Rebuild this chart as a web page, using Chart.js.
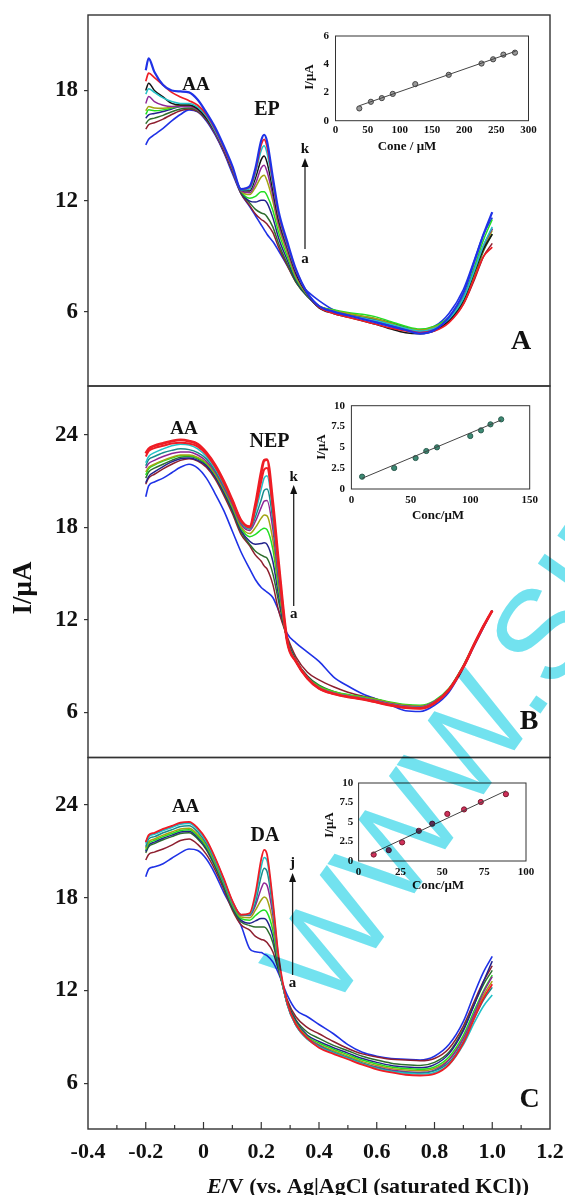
<!DOCTYPE html>
<html>
<head>
<meta charset="utf-8">
<title>DPV of AA with EP, NEP and DA</title>
<script src="https://cdn.jsdelivr.net/npm/chart.js@4.4.1/dist/chart.umd.min.js"></script>
<style>
  html, body { margin: 0; padding: 0; background: #fff; }
  #page { position: relative; width: 565px; height: 1195px; overflow: hidden; }
  #page canvas { position: absolute; left: 0; top: 0; }
  #mark { mix-blend-mode: multiply; pointer-events: none; }
</style>
</head>
<body>
<div id="page">
  <canvas id="panelA" width="565" height="1195"></canvas>
  <canvas id="panelB" width="565" height="1195"></canvas>
  <canvas id="panelC" width="565" height="1195"></canvas>
  <canvas id="insetA" width="565" height="1195"></canvas>
  <canvas id="insetB" width="565" height="1195"></canvas>
  <canvas id="insetC" width="565" height="1195"></canvas>
  <canvas id="mark" width="565" height="1195"></canvas>
</div>
<script>
const SERIF = '"Liberation Serif", "Times New Roman", serif';

// potential grid of the scans (V vs. Ag|AgCl)
const potential = [-0.2, -0.19, -0.17, -0.14, -0.11, -0.08, -0.05, -0.02, 0.01, 0.04, 0.07, 0.1, 0.13,
  0.16, 0.18, 0.2, 0.21, 0.22, 0.24, 0.26, 0.29, 0.32, 0.36,
  0.4, 0.45, 0.5, 0.55, 0.6, 0.65, 0.7, 0.75, 0.8, 0.85, 0.9, 0.94, 0.97, 1.0];

const curveLetters = ['a', 'b', 'c', 'd', 'e', 'f', 'g', 'h', 'i', 'j', 'k'];

// A: AA + increasing EP, curves a..k (uA)
const currentA = [
  [15.05, 15.35, 15.6, 15.95, 16.35, 16.7, 16.95, 16.85, 16.35, 15.6, 14.65, 13.5, 12.4, 11.7, 11.2, 10.7, 10.45, 10.2, 9.8, 9.3, 8.5, 7.7, 7.1, 6.6, 6.1, 5.85, 5.7, 5.5, 5.3, 5.1, 5.0, 5.2, 5.9, 7.2, 8.9, 10.2, 11.1],
  [15.9, 16.14, 16.25, 16.45, 16.7, 16.9, 17.0, 16.85, 16.4, 15.65, 14.7, 13.6, 12.4, 11.75, 11.3, 11.0, 10.9, 10.75, 10.3, 9.5, 8.5, 7.6, 6.85, 6.3, 6.05, 5.85, 5.7, 5.55, 5.3, 5.1, 4.95, 5.05, 5.45, 6.4, 7.8, 9.0, 9.7],
  [16.2, 16.4, 16.5, 16.65, 16.85, 17.0, 17.05, 16.9, 16.45, 15.7, 14.75, 13.65, 12.45, 11.9, 11.55, 11.35, 11.3, 11.15, 10.6, 9.7, 8.6, 7.6, 6.8, 6.3, 6.05, 5.9, 5.75, 5.6, 5.4, 5.15, 5.0, 5.1, 5.55, 6.5, 8.0, 9.3, 10.2],
  [16.5, 16.68, 16.75, 16.86, 17.0, 17.13, 17.15, 16.95, 16.5, 15.75, 14.8, 13.7, 12.5, 12.0, 11.95, 12.05, 12.05, 11.9, 11.1, 10.0, 8.8, 7.7, 6.85, 6.25, 5.95, 5.8, 5.65, 5.5, 5.25, 5.0, 4.9, 5.0, 5.5, 6.6, 8.2, 9.5, 10.5],
  [16.7, 16.95, 16.9, 16.95, 17.05, 17.15, 17.2, 17.05, 16.6, 15.85, 14.9, 13.75, 12.55, 12.15, 12.25, 12.5, 12.5, 12.3, 11.5, 10.3, 9.0, 7.8, 6.9, 6.3, 6.1, 5.95, 5.85, 5.7, 5.45, 5.2, 5.05, 5.2, 5.7, 6.8, 8.5, 9.9, 11.0],
  [16.9, 17.13, 17.05, 17.04, 17.1, 17.2, 17.15, 16.95, 16.5, 15.75, 14.8, 13.7, 12.55, 12.35, 12.75, 13.3, 13.4, 13.1, 12.0, 10.6, 9.2, 7.9, 6.9, 6.3, 6.05, 5.9, 5.75, 5.6, 5.35, 5.1, 5.0, 5.15, 5.6, 6.6, 8.1, 9.4, 10.4],
  [17.3, 17.67, 17.4, 17.2, 17.13, 17.13, 17.13, 16.95, 16.5, 15.7, 14.75, 13.65, 12.55, 12.45, 12.95, 13.8, 13.95, 13.6, 12.3, 10.8, 9.35, 8.0, 6.95, 6.25, 5.95, 5.8, 5.65, 5.45, 5.2, 5.0, 4.9, 5.05, 5.6, 6.7, 8.3, 9.6, 10.5],
  [18.0, 18.4, 18.0, 17.65, 17.3, 17.22, 17.22, 17.0, 16.5, 15.75, 14.8, 13.7, 12.6, 12.55, 13.25, 14.25, 14.45, 14.1, 12.6, 11.0, 9.5, 8.1, 6.95, 6.2, 5.9, 5.7, 5.5, 5.3, 5.05, 4.85, 4.8, 4.95, 5.5, 6.6, 8.2, 9.4, 10.2],
  [17.8, 18.1, 17.9, 17.6, 17.4, 17.3, 17.3, 17.1, 16.6, 15.8, 14.85, 13.75, 12.6, 12.65, 13.5, 14.75, 15.0, 14.6, 12.9, 11.2, 9.6, 8.2, 7.0, 6.3, 6.0, 5.8, 5.65, 5.5, 5.3, 5.1, 4.95, 5.1, 5.6, 6.7, 8.3, 9.6, 10.6],
  [18.5, 18.94, 18.7, 18.3, 17.9, 17.65, 17.45, 17.2, 16.7, 15.9, 14.9, 13.8, 12.65, 12.75, 13.65, 15.05, 15.35, 14.95, 13.1, 11.3, 9.7, 8.25, 7.0, 6.25, 5.9, 5.7, 5.5, 5.3, 5.1, 4.95, 4.85, 4.95, 5.4, 6.4, 7.9, 9.0, 9.5],
  [19.1, 19.75, 19.0, 18.3, 18.0, 17.95, 17.9, 17.5, 16.8, 16.0, 15.0, 13.9, 12.65, 12.8, 13.8, 15.3, 15.6, 15.25, 13.3, 11.45, 9.8, 8.3, 7.0, 6.3, 6.0, 5.8, 5.6, 5.4, 5.2, 5.0, 4.8, 5.0, 5.7, 7.0, 8.8, 10.2, 11.4]
];

// B: AA + increasing NEP, curves a..k (uA)
const currentB = [
  [19.99, 20.7, 20.95, 21.2, 21.55, 21.9, 22.1, 21.85, 21.2, 20.2, 19.1, 17.75, 16.4, 15.3, 14.6, 14.1, 13.95, 13.8, 13.45, 12.6, 11.1, 10.5, 9.9, 9.3, 8.3, 7.7, 7.2, 6.85, 6.45, 6.1, 6.05, 6.45, 7.3, 8.9, 10.4, 11.5, 12.6],
  [20.8, 21.2, 21.45, 21.8, 22.1, 22.35, 22.45, 22.3, 21.9, 21.15, 20.1, 18.9, 17.55, 16.8, 16.2, 15.8, 15.5, 15.3, 14.3, 12.6, 10.9, 9.6, 8.6, 8.1, 7.65, 7.3, 7.05, 6.85, 6.6, 6.45, 6.35, 6.65, 7.45, 8.95, 10.45, 11.55, 12.6],
  [21.2, 21.6, 21.85, 22.1, 22.35, 22.55, 22.6, 22.45, 22.05, 21.3, 20.25, 19.05, 17.7, 16.9, 16.45, 16.2, 16.1, 16.0, 15.0, 13.2, 10.75, 9.4, 8.35, 7.75, 7.35, 7.1, 6.95, 6.8, 6.6, 6.45, 6.4, 6.7, 7.5, 9.0, 10.5, 11.6, 12.6],
  [20.9, 21.3, 21.6, 21.95, 22.25, 22.45, 22.5, 22.35, 22.0, 21.3, 20.3, 19.15, 17.8, 17.1, 16.9, 16.95, 17.0, 16.9, 15.8, 13.6, 10.7, 9.35, 8.3, 7.65, 7.3, 7.05, 6.9, 6.75, 6.55, 6.4, 6.35, 6.7, 7.5, 9.0, 10.5, 11.6, 12.6],
  [21.4, 21.8, 22.05, 22.3, 22.5, 22.65, 22.65, 22.5, 22.15, 21.45, 20.45, 19.3, 17.95, 17.4, 17.55, 17.85, 17.95, 17.85, 16.6, 14.0, 10.65, 9.3, 8.25, 7.7, 7.35, 7.15, 7.0, 6.85, 6.65, 6.5, 6.45, 6.75, 7.55, 9.05, 10.55, 11.6, 12.6],
  [21.6, 21.9, 22.1, 22.35, 22.55, 22.7, 22.7, 22.55, 22.2, 21.5, 20.5, 19.4, 18.05, 17.6, 18.0, 18.6, 18.8, 18.75, 17.2, 14.3, 10.6, 9.3, 8.2, 7.65, 7.3, 7.1, 6.95, 6.8, 6.6, 6.45, 6.4, 6.7, 7.5, 9.0, 10.5, 11.6, 12.6],
  [21.85, 22.15, 22.35, 22.6, 22.8, 22.9, 22.9, 22.7, 22.3, 21.6, 20.6, 19.5, 18.2, 17.8, 18.4, 19.3, 19.7, 19.75, 17.9, 14.6, 10.6, 9.3, 8.2, 7.6, 7.25, 7.05, 6.9, 6.75, 6.55, 6.4, 6.35, 6.7, 7.5, 9.0, 10.5, 11.6, 12.6],
  [22.0, 22.4, 22.6, 22.85, 23.0, 23.1, 23.05, 22.85, 22.45, 21.7, 20.7, 19.6, 18.3, 17.9, 18.7, 19.8, 20.4, 20.5, 18.5, 14.9, 10.6, 9.3, 8.2, 7.6, 7.25, 7.05, 6.9, 6.7, 6.5, 6.35, 6.3, 6.65, 7.45, 8.95, 10.5, 11.6, 12.6],
  [22.2, 22.6, 22.85, 23.1, 23.3, 23.4, 23.35, 23.1, 22.6, 21.85, 20.8, 19.7, 18.4, 17.95, 19.0, 20.5, 21.2, 21.35, 19.0, 15.2, 10.6, 9.3, 8.2, 7.6, 7.25, 7.05, 6.9, 6.7, 6.5, 6.35, 6.3, 6.65, 7.45, 8.95, 10.5, 11.6, 12.6],
  [22.6, 22.95, 23.15, 23.3, 23.45, 23.5, 23.45, 23.25, 22.75, 21.95, 20.9, 19.7, 18.45, 18.0, 19.3, 21.0, 21.75, 21.85, 19.3, 15.5, 10.6, 9.3, 8.2, 7.55, 7.2, 7.0, 6.85, 6.65, 6.45, 6.3, 6.25, 6.6, 7.45, 8.95, 10.5, 11.6, 12.6],
  [22.8, 23.1, 23.3, 23.46, 23.6, 23.68, 23.6, 23.4, 22.85, 22.05, 21.0, 19.75, 18.45, 18.05, 19.5, 21.6, 22.35, 22.4, 19.6, 15.7, 10.6, 9.3, 8.2, 7.55, 7.2, 7.0, 6.85, 6.65, 6.45, 6.3, 6.25, 6.6, 7.45, 8.95, 10.5, 11.6, 12.6]
];

// C: AA + increasing DA, curves a..j (uA)
const currentC = [
  [19.36, 19.85, 20.0, 20.2, 20.55, 20.9, 21.15, 21.05, 20.5, 19.55, 18.35, 17.3, 16.2, 14.7, 14.5, 14.45, 14.35, 14.25, 13.85, 13.1, 11.7, 10.75, 10.3, 9.8, 9.2, 8.5, 8.0, 7.75, 7.6, 7.55, 7.5, 7.75, 8.5, 10.0, 11.9, 13.2, 14.2],
  [20.44, 20.8, 20.95, 21.15, 21.4, 21.7, 21.8, 21.45, 20.8, 19.8, 18.55, 17.2, 16.25, 15.9, 15.5, 15.3, 15.25, 15.1, 14.5, 13.3, 11.4, 10.3, 9.6, 9.2, 8.7, 8.25, 7.9, 7.7, 7.55, 7.5, 7.45, 7.6, 8.25, 9.7, 11.4, 12.6, 13.6],
  [20.9, 21.3, 21.5, 21.75, 21.95, 22.15, 22.2, 21.8, 21.1, 20.0, 18.7, 17.3, 16.45, 16.2, 16.1, 16.1, 16.1, 15.95, 15.1, 13.4, 11.3, 10.1, 9.3, 8.9, 8.45, 8.1, 7.75, 7.5, 7.3, 7.2, 7.15, 7.35, 8.0, 9.5, 11.2, 12.4, 13.3],
  [21.0, 21.4, 21.6, 21.85, 22.05, 22.25, 22.3, 21.9, 21.2, 20.1, 18.8, 17.4, 16.55, 16.35, 16.5, 16.65, 16.65, 16.5, 15.5, 13.5, 11.2, 10.0, 9.1, 8.7, 8.3, 7.95, 7.6, 7.35, 7.15, 7.05, 7.0, 7.2, 7.9, 9.4, 11.2, 12.6, 13.9],
  [21.1, 21.5, 21.7, 21.95, 22.15, 22.35, 22.4, 22.0, 21.3, 20.2, 18.9, 17.5, 16.65, 16.55, 16.85, 17.15, 17.2, 17.05, 15.9, 13.6, 11.15, 9.9, 9.0, 8.6, 8.2, 7.85, 7.5, 7.25, 7.05, 6.95, 6.9, 7.05, 7.7, 9.1, 10.8, 12.0, 13.0],
  [21.2, 21.6, 21.8, 22.05, 22.25, 22.45, 22.5, 22.1, 21.4, 20.3, 19.0, 17.6, 16.75, 16.7, 17.2, 17.85, 18.05, 17.9, 16.4, 13.75, 11.1, 9.85, 8.95, 8.5, 8.1, 7.75, 7.4, 7.15, 6.95, 6.85, 6.8, 6.95, 7.55, 8.9, 10.5, 11.7, 12.6],
  [21.6, 22.0, 22.15, 22.4, 22.6, 22.8, 22.85, 22.45, 21.7, 20.55, 19.2, 17.75, 16.9, 16.85, 17.5, 18.6, 18.95, 18.8, 16.9, 13.9, 11.1, 9.8, 8.9, 8.45, 8.0, 7.65, 7.3, 7.05, 6.85, 6.75, 6.7, 6.85, 7.5, 8.9, 10.6, 11.9, 12.9],
  [21.3, 21.8, 21.95, 22.2, 22.4, 22.6, 22.65, 22.25, 21.5, 20.4, 19.05, 17.65, 16.85, 16.9, 17.7, 19.4, 19.9, 19.7, 17.3, 14.0, 11.1, 9.75, 8.85, 8.4, 8.0, 7.65, 7.3, 7.0, 6.8, 6.7, 6.65, 6.8, 7.35, 8.7, 10.3, 11.4, 12.2],
  [21.5, 21.95, 22.1, 22.35, 22.55, 22.75, 22.8, 22.4, 21.65, 20.5, 19.15, 17.75, 16.9, 16.95, 18.0, 20.0, 20.6, 20.4, 17.6, 14.1, 11.1, 9.75, 8.85, 8.35, 7.95, 7.6, 7.25, 6.95, 6.75, 6.65, 6.6, 6.7, 7.2, 8.5, 10.0, 11.0, 11.7],
  [21.6, 22.05, 22.2, 22.45, 22.65, 22.85, 22.9, 22.5, 21.75, 20.6, 19.25, 17.8, 16.9, 17.0, 18.3, 20.5, 21.1, 20.8, 17.8, 14.2, 11.2, 9.8, 8.9, 8.3, 7.9, 7.55, 7.2, 6.9, 6.7, 6.55, 6.5, 6.6, 7.2, 8.6, 10.3, 11.5, 12.4]
];

const xTickValues = [-0.4, -0.3, -0.2, -0.1, 0, 0.1, 0.2, 0.3, 0.4, 0.5, 0.6, 0.7, 0.8, 0.9, 1.0, 1.1, 1.2];
const yTicksA = [6, 12, 18];
const yTicksB = [6, 12, 18, 24];
const yTicksC = [6, 12, 18, 24];

// calibration insets: peak current vs concentration
const concA = [37, 55, 72, 89, 124, 176, 227, 245, 261, 279];
const peakA = [0.87, 1.34, 1.6, 1.9, 2.59, 3.25, 4.05, 4.35, 4.68, 4.82];
const fitConcA = [37, 280];
const fitPeakA = [1.06, 4.92];
const insetXTicksA = [0, 50, 100, 150, 200, 250, 300];
const insetYTicksA = [0, 2, 4, 6];

const concB = [9, 36, 54, 63, 72, 100, 109, 117, 126];
const peakB = [1.48, 2.52, 3.72, 4.56, 5.0, 6.36, 7.04, 7.76, 8.36];
const fitConcB = [9, 126];
const fitPeakB = [1.28, 8.28];
const insetXTicksB = [0, 50, 100, 150];
const insetYTicksB = [0, 2.5, 5, 7.5, 10];

const concC = [9, 18, 26, 36, 44, 53, 63, 73, 88];
const peakC = [0.83, 1.39, 2.39, 3.87, 4.78, 6.04, 6.61, 7.57, 8.57];
const fitConcC = [8, 88];
const fitPeakC = [0.96, 9.0];
const insetXTicksC = [0, 25, 50, 75, 100];
const insetYTicksC = [0, 2.5, 5, 7.5, 10];

const col = {
  blue: '#1f32e6', brown: '#8e1f2f', dkgreen: '#2d6e2d', navy: '#22228c', green: '#22de22',
  olive: '#a3a312', purple: '#8f2596', black: '#141414', cyan: '#22c2c8', teal: '#178c8c', red: '#ee1d25'
};
const coloursA = [col.blue, col.brown, col.dkgreen, col.navy, col.green, col.olive, col.purple, col.black, col.cyan, col.red, col.blue];
const coloursB = [col.blue, col.brown, col.dkgreen, col.navy, col.green, col.olive, col.purple, col.teal, col.cyan, col.red, col.red];
const coloursC = [col.blue, col.brown, col.dkgreen, col.navy, col.green, col.olive, col.purple, col.teal, col.cyan, col.red];
const widthsA = [1.6, 1.5, 1.5, 1.5, 1.5, 1.5, 1.5, 1.5, 1.5, 1.7, 2.2];
const widthsB = [1.6, 1.5, 1.5, 1.5, 1.5, 1.5, 1.5, 1.5, 1.5, 2.0, 2.8];
const widthsC = [1.6, 1.5, 1.5, 1.5, 1.5, 1.5, 1.5, 1.5, 1.6, 1.8];

const H = 1195;
const PLOT_LEFT = 88;

function frame(lw) {
  return {
    id: 'frame',
    afterDraw(chart) {
      const a = chart.chartArea, ctx = chart.ctx;
      ctx.save();
      ctx.strokeStyle = '#333';
      ctx.lineWidth = lw;
      ctx.strokeRect(a.left, a.top, a.right - a.left, a.bottom - a.top);
      ctx.restore();
    }
  };
}

// text labels, concentration arrow and free-standing axis titles
function notes(items, arrow, extra) {
  return {
    id: 'notes',
    afterDraw(chart) {
      const ctx = chart.ctx;
      ctx.save();
      ctx.fillStyle = '#111';
      ctx.textAlign = 'center';
      ctx.textBaseline = 'middle';
      items.forEach(it => {
        ctx.font = 'bold ' + it.size + 'px ' + SERIF;
        ctx.fillText(it.text, it.x, it.y);
      });
      if (arrow) {
        ctx.strokeStyle = '#222';
        ctx.lineWidth = 1.3;
        ctx.beginPath();
        ctx.moveTo(arrow.x, arrow.y1);
        ctx.lineTo(arrow.x, arrow.y2 + 6);
        ctx.stroke();
        ctx.beginPath();
        ctx.moveTo(arrow.x, arrow.y2);
        ctx.lineTo(arrow.x - 3.5, arrow.y2 + 9);
        ctx.lineTo(arrow.x + 3.5, arrow.y2 + 9);
        ctx.closePath();
        ctx.fill();
      }
      if (extra) extra(ctx, chart);
      ctx.restore();
    }
  };
}

function rotatedText(ctx, text, x, y, size) {
  ctx.save();
  ctx.translate(x, y);
  ctx.rotate(-Math.PI / 2);
  ctx.font = 'bold ' + size + 'px ' + SERIF;
  ctx.textAlign = 'center';
  ctx.textBaseline = 'middle';
  ctx.fillText(text, 0, 0);
  ctx.restore();
}

function panel(id, rows, colours, widths, top, bottom, yMin, yMax, yTicks, withXAxis, plugins) {
  const datasets = rows.map((row, i) => ({
    label: curveLetters[i],
    data: row.map((v, j) => ({ x: potential[j], y: v })),
    borderColor: colours[i],
    borderWidth: widths[i],
    pointRadius: 0,
    fill: false,
    cubicInterpolationMode: 'monotone',
    order: rows.length - i
  }));
  const xAxis = {
    type: 'linear', min: -0.4, max: 1.2, display: withXAxis,
    afterBuildTicks: s => { s.ticks = xTickValues.map(v => ({ value: v })); },
    grid: { display: false, drawTicks: false },
    border: { display: false },
    ticks: {
      autoSkip: false, maxRotation: 0, padding: 10, color: '#111',
      font: { family: SERIF, size: 22, weight: 'bold' },
      callback: v => {
        const r = Math.round(v * 10);
        if (r % 2) return '';
        if (r === 0) return '0';
        return (r / 10).toFixed(1);
      }
    }
  };
  if (withXAxis) {
    xAxis.afterFit = s => { s.height = H - bottom; s.paddingLeft = 0; s.paddingRight = 0; };
  }
  return new Chart(document.getElementById(id), {
    type: 'line',
    data: { datasets },
    options: {
      responsive: false,
      animation: false,
      events: [],
      layout: { padding: { left: 0, right: 15, top: top, bottom: withXAxis ? 0 : H - bottom } },
      plugins: { legend: { display: false }, tooltip: { enabled: false } },
      scales: {
        x: xAxis,
        y: {
          type: 'linear', min: yMin, max: yMax,
          afterBuildTicks: s => { s.ticks = yTicks.map(v => ({ value: v })); },
          afterFit: s => { s.width = PLOT_LEFT; s.paddingTop = 0; s.paddingBottom = 0; },
          grid: { drawOnChartArea: false, drawTicks: true, tickLength: 4, color: '#333', lineWidth: 1.2 },
          border: { display: false },
          ticks: { padding: 6, color: '#111', font: { family: SERIF, size: 23, weight: 'bold' } }
        }
      }
    },
    plugins: [frame(1.4)].concat(plugins)
  });
}

// inward minor/major ticks on the shared potential axis
const innerTicks = {
  id: 'innerTicks',
  afterDraw(chart) {
    const s = chart.scales.x, ctx = chart.ctx, b = chart.chartArea.bottom;
    ctx.save();
    ctx.strokeStyle = '#333';
    ctx.lineWidth = 1.2;
    s.ticks.forEach(t => {
      const r = Math.round(t.value * 10);
      if (r === -4 || r === 12) return;
      const x = s.getPixelForValue(t.value);
      ctx.beginPath();
      ctx.moveTo(x, b);
      ctx.lineTo(x, b - (r % 2 ? 4 : 7));
      ctx.stroke();
    });
    ctx.restore();
  }
};

panel('panelA', currentA, coloursA, widthsA, 15, 386, 1.96, 22.1, yTicksA, false, [
  notes([
    { text: 'AA', x: 196, y: 85, size: 19 },
    { text: 'EP', x: 267, y: 110, size: 20 },
    { text: 'k', x: 305, y: 149, size: 15 },
    { text: 'a', x: 305, y: 259, size: 15 },
    { text: 'A', x: 521, y: 342, size: 28 }
  ], { x: 305, y1: 249, y2: 158 })
]);

panel('panelB', currentB, coloursB, widthsB, 386, 757.5, 3.06, 27.18, yTicksB, false, [
  notes([
    { text: 'AA', x: 184, y: 429, size: 19 },
    { text: 'NEP', x: 269.5, y: 442, size: 20 },
    { text: 'k', x: 293.7, y: 477, size: 15 },
    { text: 'a', x: 293.7, y: 614, size: 15 },
    { text: 'B', x: 529, y: 722, size: 28 }
  ], { x: 293.7, y1: 606, y2: 485 }, ctx => rotatedText(ctx, 'I/\u03bcA', 24, 588, 27))
]);

panel('panelC', currentC, coloursC, widthsC, 757.5, 1129, 3.04, 27.07, yTicksC, true, [
  innerTicks,
  notes([
    { text: 'AA', x: 185.6, y: 807, size: 19 },
    { text: 'DA', x: 265, y: 836, size: 20 },
    { text: 'j', x: 292.6, y: 863, size: 15 },
    { text: 'a', x: 292.6, y: 983, size: 15 },
    { text: 'C', x: 529.7, y: 1100, size: 28 }
  ], { x: 292.6, y1: 975, y2: 873 }, ctx => {
    const italic = 'italic bold 22px ' + SERIF, bold = 'bold 22px ' + SERIF;
    const rest = '/V (vs. Ag|AgCl (saturated KCl))';
    ctx.font = italic; const w1 = ctx.measureText('E').width;
    ctx.font = bold; const w2 = ctx.measureText(rest).width;
    const x0 = 368 - (w1 + w2) / 2;
    ctx.textAlign = 'left';
    ctx.font = italic; ctx.fillText('E', x0, 1187);
    ctx.font = bold; ctx.fillText(rest, x0 + w1, 1187);
  })
]);

function inset(id, area, xMax, xTicks, yMax, yTicks, conc, peak, fitX, fitY, marker, titles) {
  const tickFont = { family: SERIF, size: 11, weight: 'bold' };
  const yBox = 40;
  return new Chart(document.getElementById(id), {
    type: 'scatter',
    data: {
      datasets: [
        { data: fitX.map((x, i) => ({ x, y: fitY[i] })), showLine: true, borderColor: '#444', borderWidth: 1, pointRadius: 0 },
        { data: conc.map((x, i) => ({ x, y: peak[i] })), pointStyle: 'circle', pointRadius: 2.6,
          backgroundColor: marker.fill, borderColor: marker.edge, borderWidth: 1 }
      ]
    },
    options: {
      responsive: false,
      animation: false,
      events: [],
      layout: { padding: { left: area.l - yBox, right: 565 - area.r, top: area.t, bottom: H - area.b - 20 } },
      plugins: { legend: { display: false }, tooltip: { enabled: false } },
      scales: {
        x: {
          type: 'linear', min: 0, max: xMax,
          afterBuildTicks: s => { s.ticks = xTicks.map(v => ({ value: v })); },
          afterFit: s => { s.height = 20; s.paddingLeft = 0; s.paddingRight = 0; },
          grid: { display: false, drawTicks: false },
          border: { display: false },
          ticks: { autoSkip: false, maxRotation: 0, padding: area.xpad, color: '#111', font: tickFont }
        },
        y: {
          type: 'linear', min: 0, max: yMax,
          afterBuildTicks: s => { s.ticks = yTicks.map(v => ({ value: v })); },
          afterFit: s => { s.width = yBox; s.paddingTop = 0; s.paddingBottom = 0; },
          grid: { display: false, drawTicks: false },
          border: { display: false },
          ticks: { padding: area.ypad, color: '#111', font: tickFont }
        }
      }
    },
    plugins: [frame(1), notes([{ text: titles.x, x: titles.xx, y: titles.xy, size: 13 }], null,
      ctx => rotatedText(ctx, 'I/\u03bcA', titles.yx, titles.yy, 13))]
  });
}

inset('insetA', { l: 335.5, r: 528.5, t: 36, b: 120.7, xpad: 2.7, ypad: 6.5 }, 300, insetXTicksA, 6, insetYTicksA,
  concA, peakA, fitConcA, fitPeakA, { fill: '#9a9a9a', edge: '#444' },
  { x: 'Cone / \u03bcM', xx: 407, xy: 146.7, yx: 310, yy: 77 });

inset('insetB', { l: 351.4, r: 529.7, t: 405.7, b: 489, xpad: 4.4, ypad: 6.4 }, 150, insetXTicksB, 10, insetYTicksB,
  concB, peakB, fitConcB, fitPeakB, { fill: '#3d8a74', edge: '#2d5d50' },
  { x: 'Conc/\u03bcM', xx: 438, xy: 516, yx: 321.7, yy: 447 });

inset('insetC', { l: 358.6, r: 526, t: 783, b: 861, xpad: 4.1, ypad: 5.3 }, 100, insetXTicksC, 10, insetYTicksC,
  concC, peakC, fitConcC, fitPeakC, { fill: '#d0305a', edge: '#7a1a30' },
  { x: 'Conc/\u03bcM', xx: 438, xy: 886, yx: 330, yy: 825 });

// diagonal repository watermark
const mark = document.getElementById('mark').getContext('2d');
mark.save();
mark.translate(330, 1014);
mark.rotate(-55 * Math.PI / 180);
mark.font = '128px "Liberation Sans", Arial, sans-serif';
mark.fillStyle = '#72e2ef';
mark.fillText('WWW.SID.IR', 0, 0);
mark.restore();
</script>
</body>
</html>
